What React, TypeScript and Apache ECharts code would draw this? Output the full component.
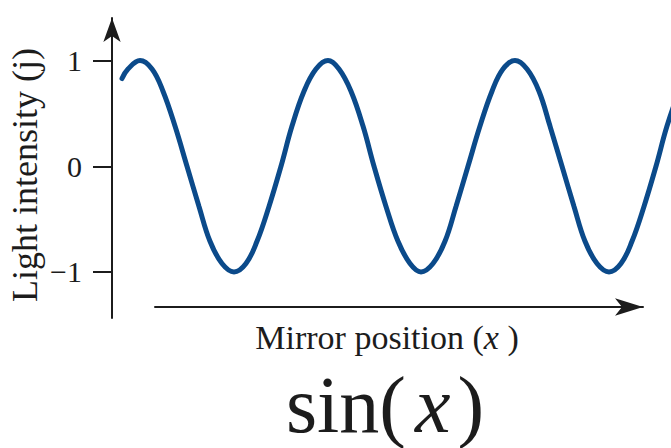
import React, { useEffect, useRef } from "react";
import * as echarts from "echarts";

// Mirror position (arbitrary units, read along the horizontal axis)
const mirrorPosition = [
  0, 6, 18, 30, 41, 53, 65, 77, 88, 100, 112, 124, 135, 147, 159, 170, 182, 194,
  206, 217, 229, 241, 252, 264, 276, 288, 299, 311, 323, 334, 346, 358, 370, 381,
  393, 405, 417, 428, 440, 452, 463, 475, 487, 499, 510, 522, 534, 545, 557,
];
// Light intensity
const lightIntensity = [
  0.83, 0.92, 1, 0.92, 0.71, 0.38, 0, -0.38, -0.71, -0.92, -1, -0.92, -0.71, -0.38, 0, 0.38, 0.71, 0.92,
  1, 0.92, 0.71, 0.38, 0, -0.38, -0.71, -0.92, -1, -0.92, -0.71, -0.38, 0, 0.38, 0.71, 0.92,
  1, 0.92, 0.71, 0.38, 0, -0.38, -0.71, -0.92, -1, -0.92, -0.71, -0.38, 0, 0.38, 0.71,
];
const yTicks = [-1, 0, 1];
const yTickLabels: Record<string, string> = { "-1": "\u22121", "0": "0", "1": "1" };
const yTitle = "Light intensity (j)";
const xTitleMain = "Mirror position (";
const xTitleVar = "x";
const formulaFn = "sin(";
const formulaVar = "x";

const SERIF = "Liberation Serif";
const INK = "#1c1c1c";

export default function App() {
  const ref = useRef<HTMLDivElement>(null);
  useEffect(() => {
    if (!ref.current) return;
    const chart = echarts.init(ref.current, null, { renderer: "svg" });
    const data = mirrorPosition.map((x, i) => [x, lightIntensity[i]]);
    chart.setOption({
      animation: false,
      backgroundColor: "#ffffff",
      grid: [
        { left: 112, right: 0, top: 18, bottom: 130 },
        { left: 155, right: 28, top: 290, bottom: 141 },
      ],
      xAxis: [
        { type: "value", gridIndex: 0, min: -10, max: 549, show: false },
        {
          type: "value",
          gridIndex: 1,
          min: 0,
          max: 1,
          axisLine: {
            show: true,
            symbol: ["none", "arrow"],
            symbolSize: [13, 28],
            lineStyle: { color: INK, width: 2 },
          },
          axisTick: { show: false },
          axisLabel: { show: false },
          splitLine: { show: false },
        },
      ],
      yAxis: [
        {
          type: "value",
          gridIndex: 0,
          min: -1.436,
          max: 1.403,
          axisLine: {
            show: true,
            onZero: false,
            symbol: ["none", "arrow"],
            symbolSize: [13, 24],
            lineStyle: { color: INK, width: 2 },
          },
          axisTick: {
            show: true,
            length: 19,
            customValues: yTicks,
            lineStyle: { color: INK, width: 2 },
          },
          axisLabel: {
            show: true,
            customValues: yTicks,
            margin: 30,
            fontFamily: SERIF,
            fontSize: 30,
            color: INK,
            formatter: (v: number) => yTickLabels[String(v)] ?? String(v),
          },
          splitLine: { show: false },
        },
        { type: "value", gridIndex: 1, show: false },
      ],
      series: [
        {
          type: "line",
          xAxisIndex: 0,
          yAxisIndex: 0,
          data,
          smooth: 0.4,
          showSymbol: false,
          symbol: "none",
          clip: true,
          lineStyle: { color: "#0b4a8a", width: 5, cap: "round" },
        },
      ],
      graphic: [
        {
          type: "text",
          x: 25,
          y: 175,
          rotation: Math.PI / 2,
          style: {
            text: yTitle,
            fontFamily: SERIF,
            fontSize: 36,
            fill: INK,
            align: "center",
            verticalAlign: "middle",
          },
        },
        {
          type: "text",
          x: 387,
          y: 337,
          style: {
            text: `${xTitleMain}{i|${xTitleVar}} )`,
            fontFamily: SERIF,
            fontSize: 34,
            fill: INK,
            align: "center",
            verticalAlign: "middle",
            rich: {
              i: { fontFamily: SERIF, fontSize: 34, fontStyle: "italic", fill: INK },
            },
          },
        },
        {
          type: "text",
          x: 385,
          y: 405,
          style: {
            text: `${formulaFn}{i|${formulaVar}})`,
            fontFamily: SERIF,
            fontSize: 80,
            fill: INK,
            align: "center",
            verticalAlign: "middle",
            rich: {
              i: { fontFamily: SERIF, fontSize: 80, fontStyle: "italic", fill: INK, padding: [0, 7, 0, 9] },
            },
          },
        },
      ],
    });
    return () => chart.dispose();
  }, []);
  return (
    <div
      ref={ref}
      style={{ position: "absolute", left: 0, top: 0, width: 671, height: 448 }}
    />
  );
}
